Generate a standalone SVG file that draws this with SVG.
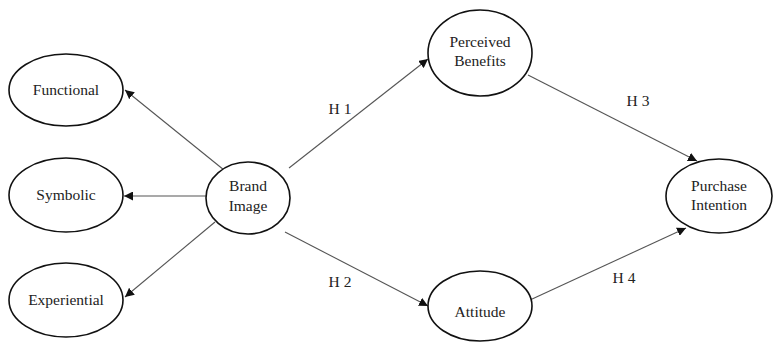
<svg xmlns="http://www.w3.org/2000/svg" width="773" height="342" viewBox="0 0 773 342">
<style>
.node ellipse{fill:#fff;stroke:#111;stroke-width:1.6}
text{font-family:"Liberation Serif","Times New Roman",serif;font-size:15.5px;fill:#222;text-anchor:middle}
.conn line{stroke:#555;stroke-width:1.1;marker-end:url(#arr)}
</style>
<defs>
<marker id="arr" viewBox="0 0 10 10" refX="10" refY="5" markerWidth="9" markerHeight="9" markerUnits="userSpaceOnUse" orient="auto">
<path d="M0,0 L10,5 L0,10 z" fill="#111"/>
</marker>
</defs>
<rect width="773" height="342" fill="#fff"/>
<g id="connectors" class="conn">
<line x1="224" y1="170" x2="125" y2="90"/>
<line x1="206" y1="196" x2="124" y2="196"/>
<line x1="215" y1="222" x2="125" y2="297"/>
<line x1="289" y1="168" x2="428" y2="59"/>
<line x1="285" y1="232" x2="428" y2="306"/>
<line x1="528" y1="75" x2="697" y2="161"/>
<line x1="530" y1="300" x2="686" y2="228"/>
</g>
<g id="functional" class="node"><ellipse cx="66" cy="90" rx="57" ry="36"/><text x="66" y="95">Functional</text></g>
<g id="symbolic" class="node"><ellipse cx="66" cy="195" rx="57" ry="37"/><text x="66" y="200">Symbolic</text></g>
<g id="experiential" class="node"><ellipse cx="66" cy="300" rx="57" ry="37"/><text x="66" y="305">Experiential</text></g>
<g id="brand-image" class="node"><ellipse cx="248" cy="198" rx="42" ry="36"/><text x="248" y="191">Brand</text><text x="248" y="211">Image</text></g>
<g id="perceived-benefits" class="node"><ellipse cx="480" cy="53" rx="52" ry="43"/><text x="480" y="47">Perceived</text><text x="480" y="66">Benefits</text></g>
<g id="attitude" class="node"><ellipse cx="480" cy="306" rx="52" ry="35"/><text x="480" y="317">Attitude</text></g>
<g id="purchase-intention" class="node"><ellipse cx="719" cy="196" rx="53" ry="37"/><text x="719" y="191">Purchase</text><text x="719" y="210">Intention</text></g>
<g id="labels">
<text x="340" y="114">H 1</text>
<text x="340" y="287">H 2</text>
<text x="638" y="106">H 3</text>
<text x="624" y="283">H 4</text>
</g>
</svg>
